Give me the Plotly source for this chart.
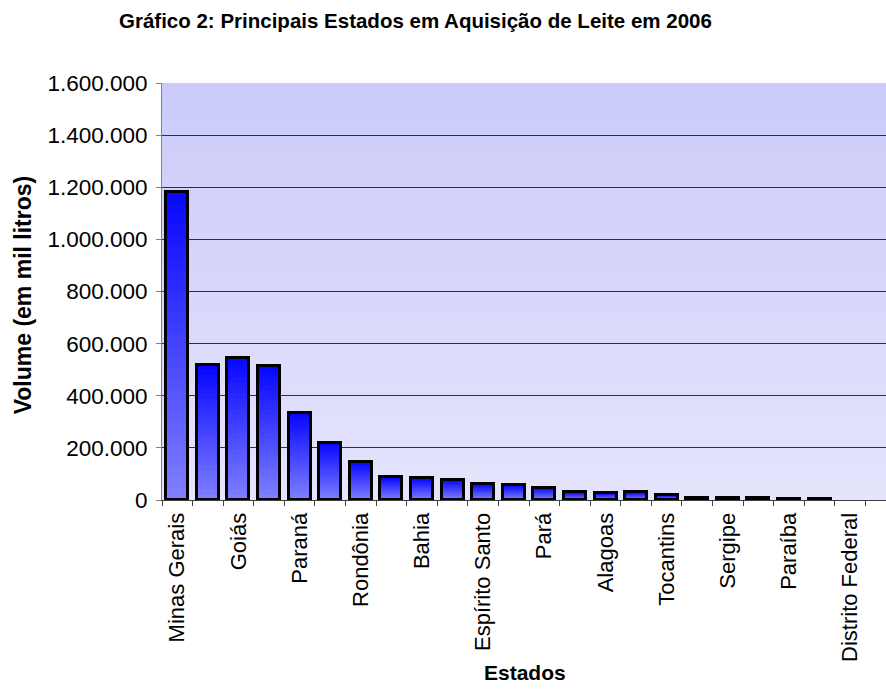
import plotly.graph_objects as go

# ---- data ----
estados = [
    "Minas Gerais", "Rio Grande do Sul", "Goiás", "São Paulo", "Paraná",
    "Santa Catarina", "Rondônia", "Rio de Janeiro", "Bahia", "Mato Grosso",
    "Espírito Santo", "Mato Grosso do Sul", "Pará", "Pernambuco", "Alagoas",
    "Ceará", "Tocantins", "Maranhão", "Sergipe", "Rio Grande do Norte",
    "Paraíba", "Piauí", "Distrito Federal", "Acre",
]
volume = [
    1180000, 517000, 545000, 514000, 334000,
    219000, 146000, 87000, 83000, 78000,
    60000, 56000, 47000, 29000, 26000,
    29000, 18000, 8000, 8000, 8000,
    2000, 2000, 0, 0,
]
y_ticks = [0, 200000, 400000, 600000, 800000, 1000000, 1200000, 1400000, 1600000]
titulo = "Gráfico 2: Principais Estados em Aquisição de Leite em 2006"
titulo_y = "Volume (em mil litros)"
titulo_x = "Estados"

# ---- layout geometry ----
W, H = 886, 692
L, R, T, B = 161.7, 0, 83, 192
plot_w = W - L - R
plot_h = H - T - B
cat_px = 30.6
x_idx = list(range(len(estados)))
x_max = -0.5 + plot_w / cat_px

FONT = "Liberation Sans, Arial, sans-serif"

# zero values are not drawn (no visible bar in the chart)
vol_drawn = [v if v > 0 else None for v in volume]

fig = go.Figure()

# gradient-filled bars: overlay of shrinking bars, top blue -> bottom lighter
N = 28
top_c = (8, 8, 255)
bot_c = (126, 126, 255)
for k in range(N):
    t = k / (N - 1)
    c = tuple(round(top_c[i] + (bot_c[i] - top_c[i]) * t) for i in range(3))
    frac = 1 - k / N
    fig.add_trace(go.Bar(
        x=x_idx, y=[None if v is None else v * frac for v in vol_drawn], width=0.72,
        marker=dict(color="rgb(%d,%d,%d)" % c, line=dict(width=0)),
        hoverinfo="skip", showlegend=False,
    ))
# outline
fig.add_trace(go.Bar(
    x=x_idx, y=vol_drawn, width=0.72, name="Volume",
    customdata=estados, hovertemplate="%{customdata}: %{y:,d}<extra></extra>",
    marker=dict(color="rgba(0,0,0,0)", line=dict(color="black", width=3)),
    showlegend=False,
))

# background gradient of plot area
shapes = []
NB = 40
bg_top = (203, 203, 250)
bg_bot = (228, 228, 252)
for k in range(NB):
    t = k / (NB - 1)
    c = tuple(round(bg_top[i] + (bg_bot[i] - bg_top[i]) * t) for i in range(3))
    y1 = 1 - k / NB
    y0 = max(0, 1 - (k + 1) / NB - 0.002)
    shapes.append(dict(type="rect", xref="paper", yref="paper", x0=0, x1=1,
                       y0=y0, y1=y1, fillcolor="rgb(%d,%d,%d)" % c,
                       line=dict(width=0), layer="below"))

annotations = [
    dict(text="<b>" + titulo + "</b>", xref="paper", yref="paper",
         x=(415 - L) / plot_w, y=(H - B - 20) / plot_h, showarrow=False,
         xanchor="center", yanchor="middle",
         font=dict(family=FONT, size=20.5, color="black")),
    dict(text="<b>" + titulo_y + "</b>", xref="paper", yref="paper",
         x=(23 - L) / plot_w, y=(H - B - 295) / plot_h, showarrow=False,
         textangle=-90, xanchor="center", yanchor="middle",
         font=dict(family=FONT, size=23, color="black")),
    dict(text="<b>" + titulo_x + "</b>", xref="paper", yref="paper",
         x=(525 - L) / plot_w, y=(H - B - 672) / plot_h, showarrow=False,
         xanchor="center", yanchor="middle",
         font=dict(family=FONT, size=21, color="black")),
]

fig.update_layout(
    width=W, height=H,
    margin=dict(l=L, r=R, t=T, b=B, pad=0),
    paper_bgcolor="white", plot_bgcolor="rgba(0,0,0,0)",
    barmode="overlay", bargap=0,
    separators=",.",
    shapes=shapes, annotations=annotations,
    font=dict(family=FONT, color="black"),
    xaxis=dict(
        range=[-0.5, x_max], showgrid=False, zeroline=False,
        tickmode="array", tickvals=x_idx[::2], ticktext=estados[::2],
        tickangle=-90, ticks="outside", ticklen=3, tickcolor="rgba(0,0,0,0)",
        tickfont=dict(family=FONT, size=22, color="black"),
        showline=True, linecolor="#404040", linewidth=1,
        minor=dict(tickmode="array", tickvals=[i - 0.5 for i in x_idx] + [len(estados) - 0.5],
                   ticks="outside", ticklen=5, tickcolor="#404040", showgrid=False),
    ),
    yaxis=dict(
        range=[0, 1600000], tickmode="array", tickvals=y_ticks, tickformat=",d",
        showgrid=True, gridcolor="#303030", gridwidth=1, zeroline=False,
        ticks="outside", ticklen=5, tickcolor="#808080",
        showline=True, linecolor="#808080", linewidth=1,
        ticklabelstandoff=4,
        tickfont=dict(family=FONT, size=22.5, color="black"),
    ),
)

fig.write_html("out.html", config={"displayModeBar": False},
               post_script="document.body.style.margin='0px';")
